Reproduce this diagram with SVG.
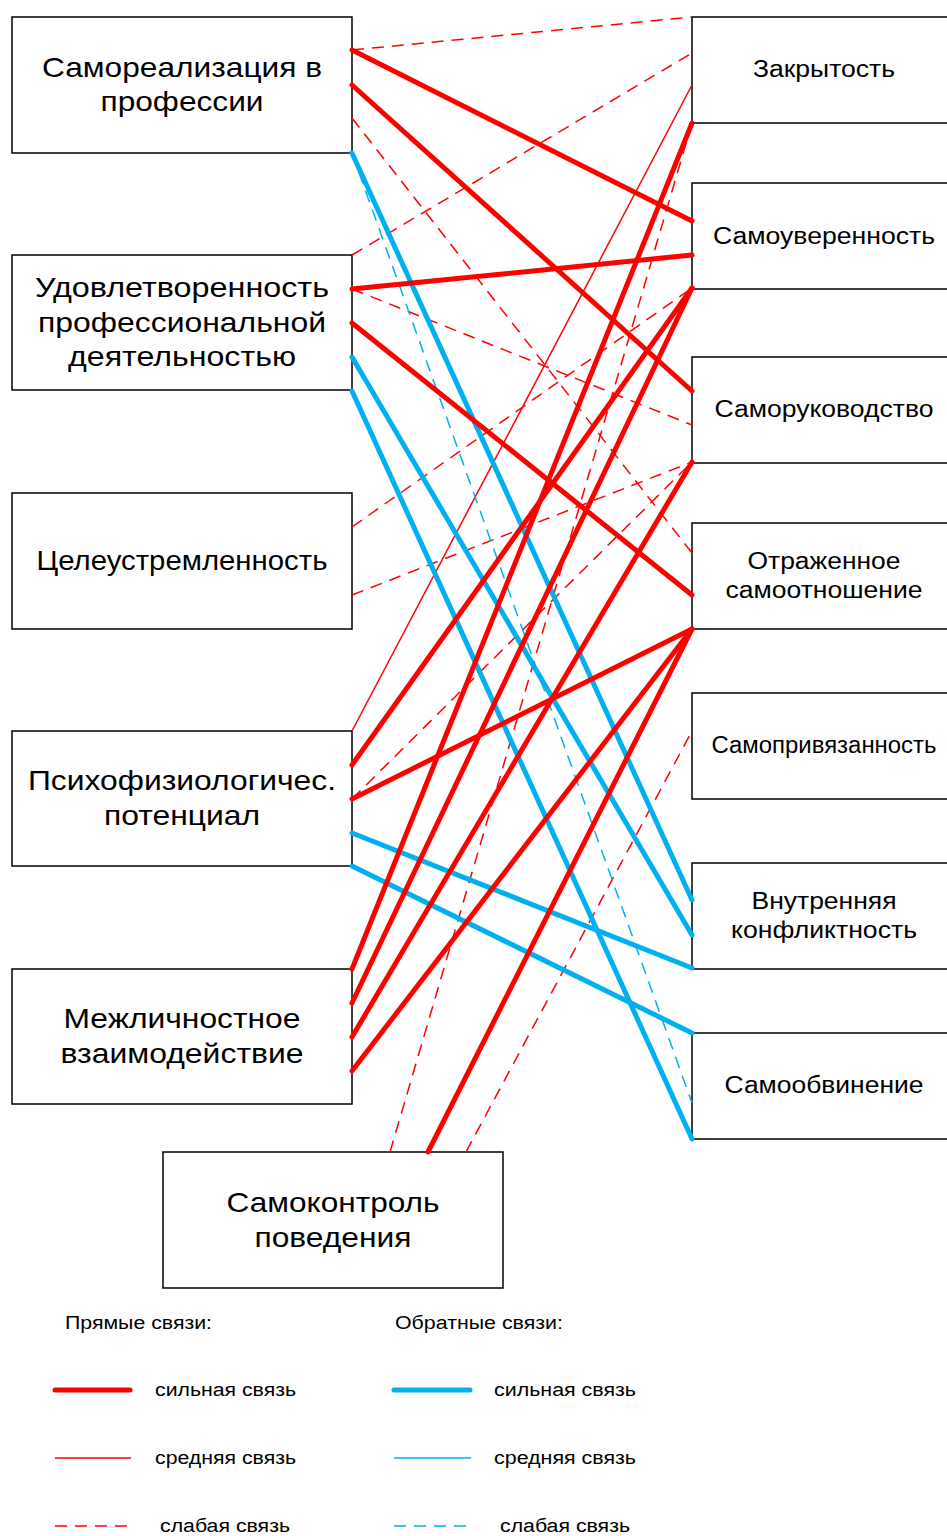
<svg xmlns="http://www.w3.org/2000/svg" width="947" height="1536" viewBox="0 0 947 1536">
  <style>
    .box { fill: #ffffff; stroke: #000000; stroke-width: 1.5; }
    text { font-family: "Liberation Sans", Arial, sans-serif; fill: #000000; text-anchor: middle; }
    .big { font-size: 28px; }
    .mid { font-size: 23px; }
    .leg { font-size: 18px; text-anchor: start; }
    .r-strong { stroke: #ff0000; stroke-width: 5; stroke-linecap: round; fill: none; }
    .r-mid { stroke: #ff0000; stroke-width: 1.5; fill: none; }
    .r-weak { stroke: #ff0000; stroke-width: 1.5; stroke-dasharray: 12 8; fill: none; }
    .b-strong { stroke: #00b0f0; stroke-width: 5; stroke-linecap: round; fill: none; }
    .b-mid { stroke: #00b0f0; stroke-width: 1.5; fill: none; }
    .b-weak { stroke: #00b0f0; stroke-width: 1.5; stroke-dasharray: 12 8; fill: none; }
  </style>

  <rect width="947" height="1536" fill="#ffffff"/>

  <!-- left column -->
  <g id="self-realization">
    <rect class="box" x="12" y="17" width="340" height="136"/>
    <text class="big" x="182" y="77" textLength="280" lengthAdjust="spacingAndGlyphs">Самореализация в</text>
    <text class="big" x="182" y="111" textLength="163" lengthAdjust="spacingAndGlyphs">профессии</text>
  </g>
  <g id="job-satisfaction">
    <rect class="box" x="12" y="255" width="340" height="135"/>
    <text class="big" x="182" y="297" textLength="294" lengthAdjust="spacingAndGlyphs">Удовлетворенность</text>
    <text class="big" x="182" y="332" textLength="288" lengthAdjust="spacingAndGlyphs">профессиональной</text>
    <text class="big" x="182" y="366" textLength="228" lengthAdjust="spacingAndGlyphs">деятельностью</text>
  </g>
  <g id="purposefulness">
    <rect class="box" x="12" y="493" width="340" height="136"/>
    <text class="big" x="182" y="570" textLength="291" lengthAdjust="spacingAndGlyphs">Целеустремленность</text>
  </g>
  <g id="psychophysiological">
    <rect class="box" x="12" y="731" width="340" height="135"/>
    <text class="big" x="182" y="790" textLength="308" lengthAdjust="spacingAndGlyphs">Психофизиологичес.</text>
    <text class="big" x="182" y="825" textLength="156" lengthAdjust="spacingAndGlyphs">потенциал</text>
  </g>
  <g id="interpersonal">
    <rect class="box" x="12" y="969" width="340" height="135"/>
    <text class="big" x="182" y="1028" textLength="237" lengthAdjust="spacingAndGlyphs">Межличностное</text>
    <text class="big" x="182" y="1063" textLength="243" lengthAdjust="spacingAndGlyphs">взаимодействие</text>
  </g>
  <g id="self-control">
    <rect class="box" x="163" y="1152" width="340" height="136"/>
    <text class="big" x="333" y="1212" textLength="213" lengthAdjust="spacingAndGlyphs">Самоконтроль</text>
    <text class="big" x="333" y="1247" textLength="157" lengthAdjust="spacingAndGlyphs">поведения</text>
  </g>

  <!-- right column (boxes run past the right edge) -->
  <g id="closedness">
    <rect class="box" x="692" y="17" width="300" height="106"/>
    <text class="mid" x="824" y="77" textLength="142" lengthAdjust="spacingAndGlyphs">Закрытость</text>
  </g>
  <g id="self-confidence">
    <rect class="box" x="692" y="183" width="300" height="106"/>
    <text class="mid" x="824" y="244" textLength="222" lengthAdjust="spacingAndGlyphs">Самоуверенность</text>
  </g>
  <g id="self-guidance">
    <rect class="box" x="692" y="357" width="300" height="106"/>
    <text class="mid" x="824" y="417" textLength="219" lengthAdjust="spacingAndGlyphs">Саморуководство</text>
  </g>
  <g id="reflected-attitude">
    <rect class="box" x="692" y="523" width="300" height="106"/>
    <text class="mid" x="824" y="569" textLength="153" lengthAdjust="spacingAndGlyphs">Отраженное</text>
    <text class="mid" x="824" y="598" textLength="197" lengthAdjust="spacingAndGlyphs">самоотношение</text>
  </g>
  <g id="self-attachment">
    <rect class="box" x="692" y="693" width="300" height="106"/>
    <text class="mid" x="824" y="753" font-size="20" textLength="225" lengthAdjust="spacingAndGlyphs">Самопривязанность</text>
  </g>
  <g id="inner-conflict">
    <rect class="box" x="692" y="863" width="300" height="106"/>
    <text class="mid" x="824" y="909" textLength="145" lengthAdjust="spacingAndGlyphs">Внутренняя</text>
    <text class="mid" x="824" y="938" textLength="186" lengthAdjust="spacingAndGlyphs">конфликтность</text>
  </g>
  <g id="self-blame">
    <rect class="box" x="692" y="1033" width="300" height="106"/>
    <text class="mid" x="824" y="1093" textLength="199" lengthAdjust="spacingAndGlyphs">Самообвинение</text>
  </g>

  <!-- connectors -->
  <g id="connectors">
    <!-- direct, weak -->
    <line class="r-weak" x1="352" y1="50" x2="692" y2="17"/>
    <line class="r-weak" x1="352" y1="118" x2="692" y2="553"/>
    <line class="r-weak" x1="352" y1="255" x2="692" y2="53"/>
    <line class="r-weak" x1="352" y1="289" x2="692" y2="425"/>
    <line class="r-weak" x1="352" y1="527" x2="692" y2="288"/>
    <line class="r-weak" x1="352" y1="595" x2="692" y2="462"/>
    <line class="r-weak" x1="352" y1="799" x2="692" y2="462"/>
    <line class="r-weak" x1="390" y1="1152" x2="692" y2="123"/>
    <line class="r-weak" x1="466" y1="1152" x2="692" y2="731"/>
    <!-- direct, medium -->
    <line class="r-mid" x1="352" y1="731" x2="692" y2="85"/>
    <!-- inverse, weak -->
    <line class="b-weak" x1="352" y1="153" x2="692" y2="1103"/>
    <!-- inverse, strong -->
    <line class="b-strong" x1="352" y1="153" x2="692" y2="900"/>
    <line class="b-strong" x1="352" y1="357" x2="692" y2="935"/>
    <line class="b-strong" x1="352" y1="391" x2="692" y2="1139"/>
    <line class="b-strong" x1="352" y1="833" x2="692" y2="968"/>
    <line class="b-strong" x1="352" y1="866" x2="692" y2="1033"/>
    <!-- direct, strong -->
    <line class="r-strong" x1="352" y1="50" x2="692" y2="221"/>
    <line class="r-strong" x1="352" y1="85" x2="692" y2="391"/>
    <line class="r-strong" x1="352" y1="289" x2="692" y2="255"/>
    <line class="r-strong" x1="352" y1="323" x2="692" y2="595"/>
    <line class="r-strong" x1="352" y1="765" x2="692" y2="288"/>
    <line class="r-strong" x1="352" y1="799" x2="692" y2="629"/>
    <line class="r-strong" x1="352" y1="969" x2="692" y2="123"/>
    <line class="r-strong" x1="352" y1="1003" x2="692" y2="288"/>
    <line class="r-strong" x1="352" y1="1037" x2="692" y2="462"/>
    <line class="r-strong" x1="352" y1="1071" x2="692" y2="629"/>
    <line class="r-strong" x1="428" y1="1152" x2="692" y2="629"/>
  </g>

  <!-- legend -->
  <g id="legend">
    <text class="leg" x="65" y="1329" textLength="147" lengthAdjust="spacingAndGlyphs">Прямые связи:</text>
    <text class="leg" x="395" y="1329" textLength="168" lengthAdjust="spacingAndGlyphs">Обратные связи:</text>

    <line class="r-strong" x1="55" y1="1390" x2="130" y2="1390"/>
    <text class="leg" x="155" y="1396" textLength="141" lengthAdjust="spacingAndGlyphs">сильная связь</text>
    <line class="r-mid" x1="55" y1="1458" x2="131" y2="1458"/>
    <text class="leg" x="155" y="1464" textLength="141" lengthAdjust="spacingAndGlyphs">средняя связь</text>
    <line class="r-weak" x1="55" y1="1526" x2="131" y2="1526"/>
    <text class="leg" x="160" y="1532" textLength="130" lengthAdjust="spacingAndGlyphs">слабая связь</text>

    <line class="b-strong" x1="394" y1="1390" x2="470" y2="1390"/>
    <text class="leg" x="494" y="1396" textLength="142" lengthAdjust="spacingAndGlyphs">сильная связь</text>
    <line class="b-mid" x1="394" y1="1458" x2="471" y2="1458"/>
    <text class="leg" x="494" y="1464" textLength="142" lengthAdjust="spacingAndGlyphs">средняя связь</text>
    <line class="b-weak" x1="394" y1="1526" x2="471" y2="1526"/>
    <text class="leg" x="500" y="1532" textLength="130" lengthAdjust="spacingAndGlyphs">слабая связь</text>
  </g>
</svg>
